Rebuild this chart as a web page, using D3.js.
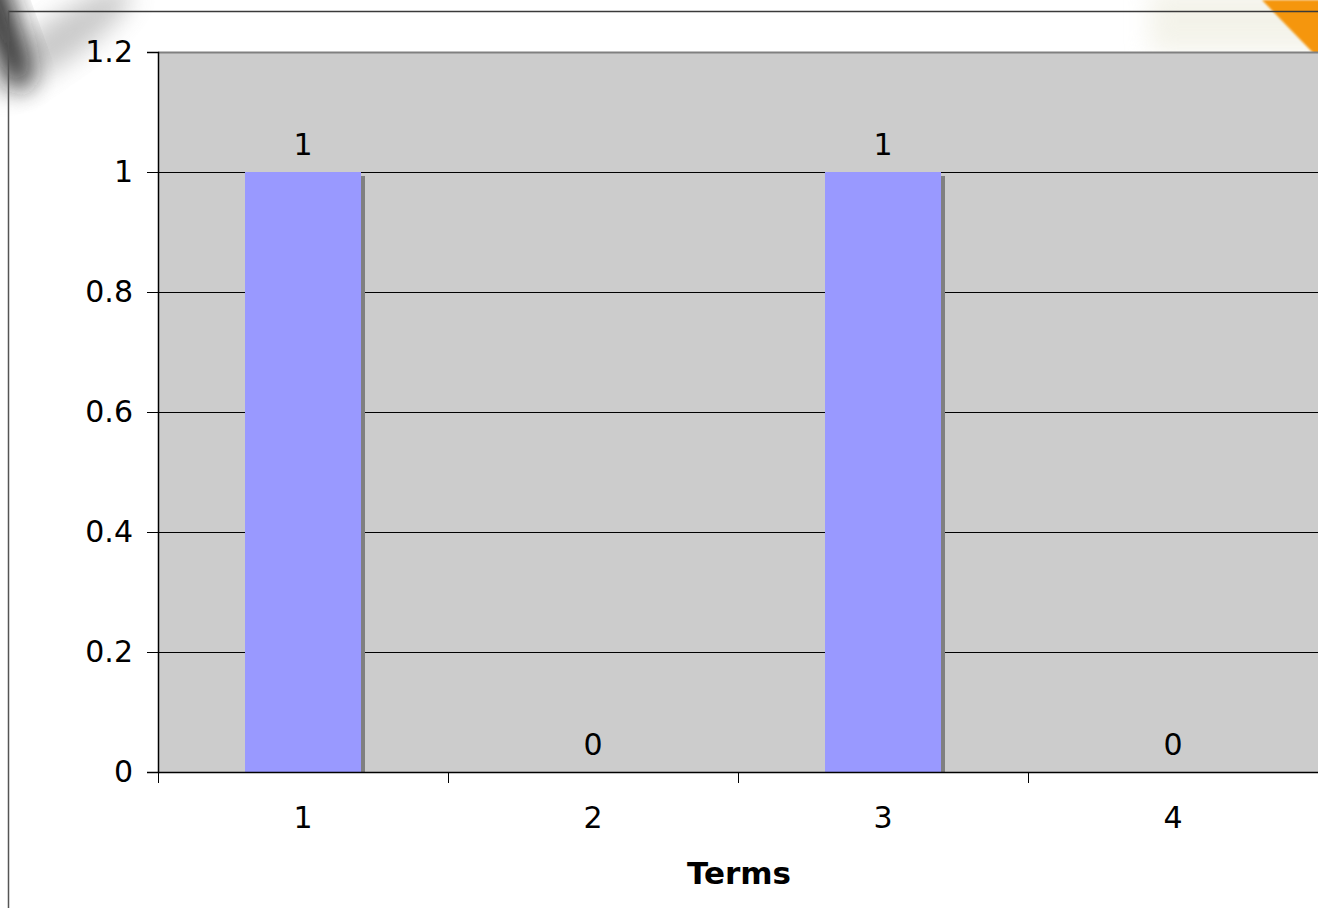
<!DOCTYPE html>
<html>
<head>
<meta charset="utf-8">
<script src="https://cdn.jsdelivr.net/npm/d3@7"></script>
<style>
  html, body { margin: 0; padding: 0; background: #ffffff; }
  svg { display: block; }
</style>
</head>
<body>
<svg id="chart" width="1318" height="908"></svg>
<script>
// Chart data
const categories = ["1", "2", "3", "4"];
const values = [1, 0, 1, 0];
const yTicks = [0, 0.2, 0.4, 0.6, 0.8, 1, 1.2];
const xTitle = "Terms";

const W = 1318, H = 908;
const plot = { left: 158, right: 1318, top: 52, bottom: 772 };
const FONT = "'DejaVu Sans', Verdana, sans-serif";

const svg = d3.select("#chart");
const defs = svg.append("defs");

// Slide backdrop bits peeking out at the corners
defs.append("filter").attr("id", "soft")
  .attr("x", "-50%").attr("y", "-50%").attr("width", "200%").attr("height", "200%")
  .append("feGaussianBlur").attr("stdDeviation", 12);
defs.append("filter").attr("id", "edge")
  .append("feGaussianBlur").attr("stdDeviation", 1.2);

const deco = svg.append("g");
deco.append("ellipse")
  .attr("cx", 60).attr("cy", 40).attr("rx", 85).attr("ry", 22)
  .attr("transform", "rotate(-35 60 40)")
  .attr("fill", "#8a8a8a").attr("opacity", 0.45)
  .attr("filter", "url(#soft)");
deco.append("ellipse")
  .attr("cx", -4).attr("cy", 10).attr("rx", 18).attr("ry", 85)
  .attr("transform", "rotate(-20 -4 10)")
  .attr("fill", "#1e1e1e").attr("opacity", 0.9)
  .attr("filter", "url(#soft)");
deco.append("rect")
  .attr("x", 1150).attr("y", -10).attr("width", 180).attr("height", 62)
  .attr("fill", "#ecebdc").attr("opacity", 0.6)
  .attr("filter", "url(#soft)");
deco.append("polygon")
  .attr("points", "1262,0 1330,0 1330,58 1318,58")
  .attr("fill", "#f5960a")
  .attr("filter", "url(#edge)");

// Outer chart frame
svg.append("line").attr("x1", 8).attr("x2", W).attr("y1", 11.5).attr("y2", 11.5)
  .attr("stroke", "#3a3a3a").attr("stroke-width", 1.5);
svg.append("line").attr("x1", 8.5).attr("x2", 8.5).attr("y1", 11).attr("y2", H)
  .attr("stroke", "#555").attr("stroke-width", 1.5);

// Scales
const x = d3.scaleBand()
  .domain(categories)
  .range([plot.left, plot.right])
  .paddingInner(0.6)
  .paddingOuter(0.3);
const step = x.step();

const y = d3.scaleLinear()
  .domain([0, 1.2])
  .range([plot.bottom, plot.top]);

// Plot area
svg.append("rect")
  .attr("x", plot.left).attr("y", plot.top)
  .attr("width", plot.right - plot.left).attr("height", plot.bottom - plot.top)
  .attr("fill", "#cccccc");
svg.append("line")
  .attr("x1", plot.left).attr("x2", plot.right)
  .attr("y1", plot.top + 0.5).attr("y2", plot.top + 0.5)
  .attr("stroke", "#808080").attr("stroke-width", 2);

// Gridlines
svg.append("g")
  .selectAll("line")
  .data(yTicks.filter(d => d > 0 && d < 1.2))
  .join("line")
  .attr("x1", plot.left).attr("x2", plot.right)
  .attr("y1", d => Math.round(y(d)) + 0.5).attr("y2", d => Math.round(y(d)) + 0.5)
  .attr("stroke", "#000").attr("stroke-width", 1);

// Bars with their drop shadow
const rows = values.map((v, i) => ({ c: categories[i], v }));
const bars = svg.append("g");
bars.selectAll("rect.shadow")
  .data(rows.filter(d => d.v > 0))
  .join("rect")
  .attr("class", "shadow")
  .attr("x", d => x(d.c) + 4)
  .attr("y", d => y(d.v) + 4)
  .attr("width", x.bandwidth())
  .attr("height", d => y(0) - y(d.v) - 4)
  .attr("fill", "#808080");
bars.selectAll("rect.bar")
  .data(rows)
  .join("rect")
  .attr("class", "bar")
  .attr("x", d => x(d.c))
  .attr("y", d => y(d.v))
  .attr("width", x.bandwidth())
  .attr("height", d => y(0) - y(d.v))
  .attr("fill", "#9999ff");

// Value labels
svg.append("g")
  .selectAll("text")
  .data(rows)
  .join("text")
  .attr("x", d => x(d.c) + x.bandwidth() / 2)
  .attr("y", d => y(d.v) - 17)
  .attr("text-anchor", "middle")
  .attr("font-family", FONT)
  .attr("font-size", 30)
  .attr("fill", "#000")
  .text(d => d.v);

// Y axis
const yAxis = svg.append("g")
  .attr("transform", `translate(${plot.left},0)`)
  .call(d3.axisLeft(y).tickValues(yTicks).tickSize(11).tickPadding(14)
    .tickFormat(d3.format("")));
yAxis.select(".domain").attr("stroke", "#000").attr("stroke-width", 1.5);
yAxis.selectAll(".tick line").attr("stroke", "#000");
yAxis.selectAll("text")
  .attr("font-family", FONT)
  .attr("font-size", 30)
  .attr("fill", "#000");

// X axis: labels centred in each band, ticks between bands
const xAxis = svg.append("g")
  .attr("transform", `translate(0,${plot.bottom})`)
  .call(d3.axisBottom(x).tickSize(0).tickPadding(35));
xAxis.select(".domain").attr("stroke", "#000").attr("stroke-width", 1.5);
xAxis.selectAll("text")
  .attr("font-family", FONT)
  .attr("font-size", 30)
  .attr("fill", "#000");
xAxis.selectAll("line.sep")
  .data(d3.range(categories.length + 1))
  .join("line")
  .attr("class", "sep")
  .attr("x1", i => Math.round(plot.left + i * step) + 0.5)
  .attr("x2", i => Math.round(plot.left + i * step) + 0.5)
  .attr("y1", 0).attr("y2", 11)
  .attr("stroke", "#000");

// X axis title
svg.append("text")
  .attr("x", (plot.left + plot.right) / 2 + 1)
  .attr("y", 884)
  .attr("text-anchor", "middle")
  .attr("font-family", FONT)
  .attr("font-weight", "bold")
  .attr("font-size", 31)
  .attr("fill", "#000")
  .text(xTitle);
</script>
</body>
</html>
